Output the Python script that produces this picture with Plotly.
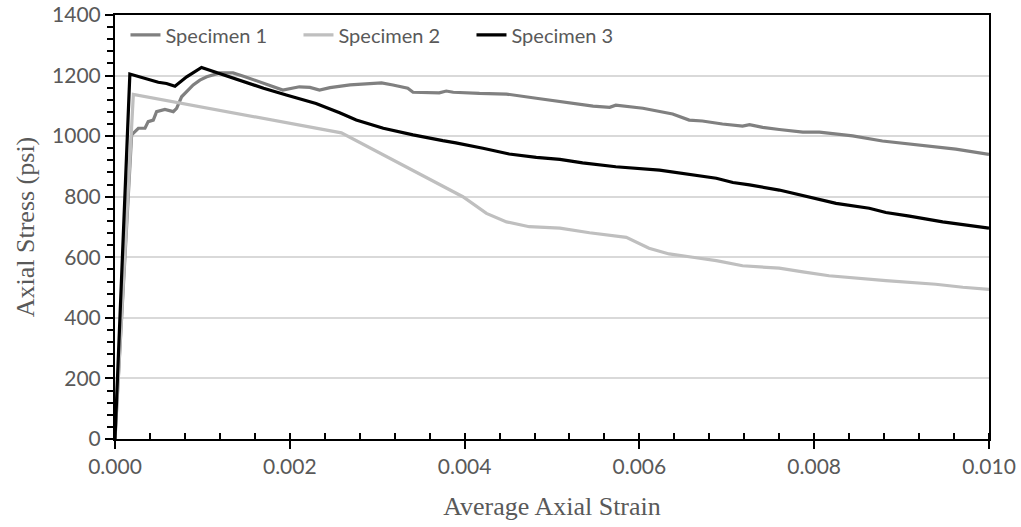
import plotly.graph_objects as go

# Specimen 1
s1_strain = [0, 0.00019, 0.000267, 0.000343, 0.00038, 0.000438, 0.000476, 0.000571, 0.000667, 0.000705,
             0.000762, 0.000819, 0.000895, 0.000971, 0.00105, 0.0012, 0.00135, 0.00147, 0.00162, 0.00173,
             0.00185, 0.00192, 0.00211, 0.00223, 0.00234, 0.00246, 0.00269, 0.00305, 0.00318, 0.00335,
             0.00341, 0.00371, 0.00379, 0.00387, 0.00417, 0.00448, 0.00482, 0.00509, 0.00528, 0.00547,
             0.00566, 0.00573, 0.00604, 0.00638, 0.00657, 0.00672, 0.00695, 0.00718, 0.00726, 0.00741,
             0.0076, 0.00787, 0.00806, 0.00844, 0.00878, 0.00901, 0.00931, 0.0095, 0.00962, 0.0100]
s1_stress = [0, 1004, 1026, 1026, 1048, 1053, 1081, 1088, 1081, 1092,
             1130, 1147, 1169, 1185, 1196, 1209, 1209, 1198, 1183, 1171,
             1158, 1152, 1163, 1161, 1152, 1160, 1169, 1176, 1169, 1158,
             1145, 1143, 1149, 1145, 1141, 1139, 1125, 1114, 1106, 1099,
             1095, 1102, 1092, 1073, 1053, 1050, 1040, 1033, 1038, 1029,
             1022, 1013, 1013, 1001, 984, 976, 968, 960, 957, 940]

# Specimen 2
s2_strain = [0, 0.00021, 0.00259, 0.00398, 0.00425, 0.00448, 0.00474, 0.00509, 0.00543, 0.00585,
             0.00611, 0.00634, 0.00661, 0.00688, 0.00718, 0.0076, 0.00787, 0.00817, 0.00882, 0.00912,
             0.00939, 0.0097, 0.0100]
s2_stress = [0, 1138, 1011, 800, 745, 717, 701, 696, 681, 666,
             630, 611, 600, 589, 572, 564, 552, 539, 523, 517,
             511, 501, 494]

# Specimen 3
s3_strain = [0, 0.00017, 0.000495, 0.00059, 0.000686, 0.00082, 0.00099, 0.0012, 0.00147, 0.0017,
             0.00196, 0.0023, 0.00257, 0.00276, 0.00307, 0.00341, 0.00375, 0.0039, 0.00421, 0.00451,
             0.00482, 0.00509, 0.00535, 0.00573, 0.00623, 0.00657, 0.00688, 0.00707, 0.00726, 0.0076,
             0.00794, 0.00825, 0.00863, 0.00882, 0.00909, 0.00947, 0.0100]
s3_stress = [0, 1205, 1178, 1174, 1165, 1196, 1227, 1207, 1180, 1158,
             1136, 1108, 1077, 1053, 1026, 1004, 985, 978, 960, 941,
             930, 923, 912, 899, 888, 874, 861, 847, 839, 822,
             798, 778, 762, 748, 736, 717, 696]

series_names = ["Specimen 1", "Specimen 2", "Specimen 3"]
series_colors = ["#808080", "#bfbfbf", "#000000"]

x_ticks = [0.000, 0.002, 0.004, 0.006, 0.008, 0.010]
y_ticks = [0, 200, 400, 600, 800, 1000, 1200, 1400]

fig = go.Figure()
for name, xs, ys, col in zip(series_names,
                             [s1_strain, s2_strain, s3_strain],
                             [s1_stress, s2_stress, s3_stress],
                             series_colors):
    fig.add_trace(go.Scatter(x=xs, y=ys, mode="lines", name=name,
                             line=dict(color=col, width=3.2)))

tick_font = dict(family="Lato", size=21, color="#595959")
title_font = dict(family="Liberation Serif", size=26, color="#595959")

x_step = x_ticks[1] - x_ticks[0]
y_step = y_ticks[1] - y_ticks[0]

fig.update_layout(
    width=1021, height=527,
    margin=dict(l=115, r=32, t=15, b=88),
    paper_bgcolor="white", plot_bgcolor="white",
    showlegend=True,
    legend=dict(orientation="h", x=0.012, y=0.953, xanchor="left", yanchor="middle",
                font=dict(family="Lato", size=20, color="#595959"),
                bgcolor="rgba(0,0,0,0)", entrywidth=128, entrywidthmode="pixels",
                itemwidth=30),
    xaxis=dict(range=[x_ticks[0], x_ticks[-1]], tickmode="linear", tick0=x_ticks[0], dtick=x_step,
               tickformat=".3f",
               automargin=False,
               showline=True, linecolor="black", linewidth=2, mirror=True,
               ticks="outside", ticklen=8, tickwidth=2, tickcolor="black",
               minor=dict(ticks="inside", ticklen=6, tickwidth=2,
                          tickcolor="black", dtick=x_step / 5, tick0=x_ticks[0]),
               showgrid=False, tickfont=tick_font,
               title=dict(text="Average Axial Strain", font=title_font, standoff=20)),
    yaxis=dict(range=[y_ticks[0], y_ticks[-1]], tickmode="linear", tick0=y_ticks[0], dtick=y_step,
               automargin=False,
               showline=True, linecolor="black", linewidth=2, mirror=True,
               ticks="outside", ticklen=8, tickwidth=2, tickcolor="black",
               minor=dict(ticks="outside", ticklen=6, tickwidth=2,
                          tickcolor="black", dtick=y_step / 5, tick0=y_ticks[0]),
               showgrid=True, gridcolor="#d9d9d9", gridwidth=1.5, zeroline=False,
               tickfont=tick_font,
               title=dict(text="Axial Stress (psi)", font=title_font, standoff=10)),
)

fig.write_html("out.html")
